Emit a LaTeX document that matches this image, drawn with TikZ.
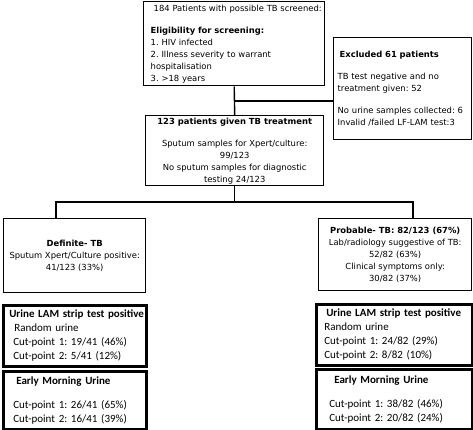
\documentclass[tikz,border=0pt]{standalone}
\usepackage{fontspec}
\setmainfont{DejaVu Sans}
\newfontfamily\calibri{Carlito}
\usetikzlibrary{calc}
\frenchspacing

\begin{document}
\begin{tikzpicture}[x=1pt, y=-1pt,
    flowbox/.style={draw, line width=1.4pt, anchor=north west, inner xsep=2pt, inner ysep=0pt,
        align=left, font=\fontsize{8.4}{11.8}\selectfont},
    centerbox/.style={draw, line width=1.4pt, anchor=north west, inner sep=0pt,
        align=center, font=\fontsize{8.4}{12}\selectfont},
    lambox/.style={draw, line width=2.6pt, anchor=north west, inner xsep=2pt, inner ysep=0pt,
        align=left, font=\calibri\fontsize{11}{14}\selectfont},
    link/.style={line width=1.4pt}]
    \useasboundingbox (0,0) rectangle (473,430);

    % Screening and exclusion
    \node[flowbox, text width=177pt, minimum height=84pt] (screen) at (143,1) {%
        \hspace*{8pt}184 Patients with possible TB screened:\\[11pt]
        \hspace*{5pt}\textbf{Eligibility for screening:}\\
        \hspace*{5pt}1. HIV infected\\
        \hspace*{5pt}2. Illness severity to warrant\\
        \hspace*{5pt}hospitalisation\\
        \hspace*{5pt}3. >18 years};
    \node[flowbox, text width=134pt, minimum height=102pt] (excl) at (333,37) {%
        \hspace*{4pt}\textbf{Excluded 61 patients}\\[10pt]
        \hspace*{2pt}TB test negative and no\\
        \hspace*{2pt}treatment given: 52\\[10pt]
        \hspace*{2pt}No urine samples collected: 6\\
        \hspace*{2pt}Invalid /failed LF-LAM test:3};
    \node[centerbox, minimum width=178pt, minimum height=70pt] (treat) at (145,115) {%
        \textbf{123 patients given TB treatment}\\[10pt]
        Sputum samples for Xpert/culture:\\
        99/123\\
        No sputum samples for diagnostic\\
        testing 24/123};

    % Diagnosis groups
    \node[centerbox, minimum width=142pt, minimum height=74pt] (definite) at (3,218) {%
        \textbf{Definite- TB}\\
        Sputum Xpert/Culture positive:\\
        41/123 (33\%)};
    \node[centerbox, minimum width=153pt, minimum height=72pt] (probable) at (318,218) {%
        \textbf{Probable- TB: 82/123 (67\%)}\\
        Lab/radiology suggestive of TB:\\
        52/82 (63\%)\\
        Clinical symptoms only:\\
        30/82 (37\%)};

    % Urine LAM results
    \node[lambox, text width=139pt, minimum height=61pt] (urineL) at (2,304) {%
        \hspace*{4pt}\textbf{Urine LAM strip test positive}\\
        \hspace*{9pt}Random urine\\
        \hspace*{8pt}Cut-point 1: 19/41 (46\%)\\
        \hspace*{8pt}Cut-point 2: 5/41 (12\%)};
    \node[lambox, text width=139pt, minimum height=58pt] (morningL) at (2,370) {%
        \hspace*{11pt}\textbf{Early Morning Urine}\\[10pt]
        \hspace*{8pt}Cut-point 1: 26/41 (65\%)\\
        \hspace*{8pt}Cut-point 2: 16/41 (39\%)};
    \node[lambox, text width=152pt, minimum height=61pt] (urineR) at (315,303) {%
        \hspace*{8pt}\textbf{Urine LAM strip test positive}\\
        \hspace*{6pt}Random urine\\
        \hspace*{6pt}Cut-point 1: 24/82 (29\%)\\
        \hspace*{6pt}Cut-point 2: 8/82 (10\%)};
    \node[lambox, text width=152pt, minimum height=60pt] (morningR) at (315,368) {%
        \hspace*{16pt}\textbf{Early Morning Urine}\\[10pt]
        \hspace*{11pt}Cut-point 1: 38/82 (46\%)\\
        \hspace*{11pt}Cut-point 2: 20/82 (24\%)};

    % Connectors
    \draw[link] (screen.south) -- (treat.north);
    \coordinate (exclsplit) at (233.5,101);
    \draw[link] (exclsplit) -- (exclsplit -| excl.west);
    \coordinate (deflink) at (56,202);
    \coordinate (problink) at (413,202);
    \draw[link] (treat.south) -- (treat.south |- deflink);
    \draw[link] (definite.north -| deflink) -- (deflink) -- (problink) -- (probable.north -| problink);
\end{tikzpicture}
\end{document}
